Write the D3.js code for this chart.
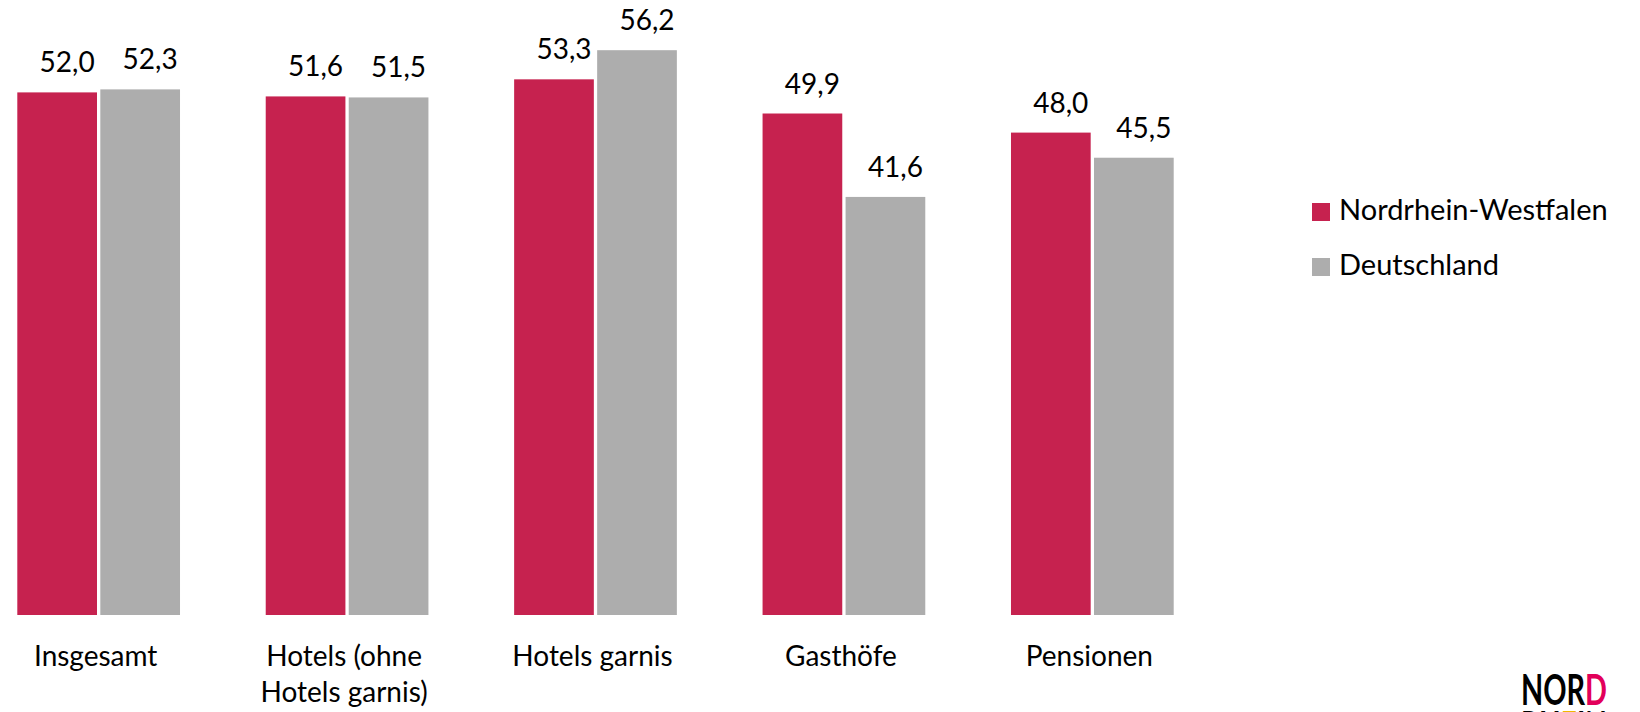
<!DOCTYPE html>
<html>
<head>
<meta charset="utf-8">
<script src="https://cdn.jsdelivr.net/npm/d3@7"></script>
<style>
  body { margin: 0; background: #fff; }
  svg text { font-family: Lato, "Open Sans", sans-serif; fill: #000; }
</style>
</head>
<body>
<svg id="chart" width="1640" height="712"></svg>
<script>
// Data
let categories = ["Insgesamt", "Hotels (ohne\nHotels garnis)", "Hotels garnis", "Gasthöfe", "Pensionen"];
let seriesNames = ["Nordrhein-Westfalen", "Deutschland"];
let nrwValues = [52.0, 51.6, 53.3, 49.9, 48.0];
let deValues = [52.3, 51.5, 56.2, 41.6, 45.5];

// Colors and layout
let nrwColor = "#c6224f";
let deColor = "#adadad";
let colors = [nrwColor, deColor];
let baseY = 615;
let fontSize = 28;

let svg = d3.select("svg#chart");

let rows = categories.map((c, i) => ({ cat: c, values: [nrwValues[i], deValues[i]] }));

// Scales
const xScale = d3.scaleBand()
  .domain(categories)
  .range([17.3, 1173.7])
  .paddingInner(0.345)
  .paddingOuter(0);

const subScale = d3.scaleBand()
  .domain(seriesNames)
  .range([0, xScale.bandwidth()])
  .paddingInner(0.04);

const yScale = d3.scaleLinear()
  .domain([0, 60])
  .range([baseY, 12]);

const de = d3.formatLocale({ decimal: ",", thousands: ".", grouping: [3], currency: ["", " €"] });
const fmt = de.format(".1f");

// Bars
let groups = svg.append("g")
  .selectAll("g")
  .data(rows)
  .join("g")
  .attr("transform", d => "translate(" + xScale(d.cat) + ",0)");

groups.selectAll("rect")
  .data(d => d.values.map((v, i) => ({ name: seriesNames[i], value: v, i: i })))
  .join("rect")
  .attr("x", d => subScale(d.name))
  .attr("y", d => yScale(d.value))
  .attr("width", subScale.bandwidth())
  .attr("height", d => yScale(0) - yScale(d.value))
  .attr("fill", d => colors[d.i]);

// Value labels
groups.selectAll("text.value")
  .data(d => d.values.map((v, i) => ({ name: seriesNames[i], value: v })))
  .join("text")
  .attr("class", "value")
  .attr("text-anchor", "middle")
  .attr("x", d => subScale(d.name) + subScale.bandwidth() / 2 + 10)
  .attr("y", d => yScale(d.value) - 20)
  .attr("font-size", fontSize + "px")
  .text(d => fmt(d.value));

// Category axis
let xAxis = d3.axisBottom(xScale).tickSize(0).tickPadding(0);
let axisG = svg.append("g")
  .attr("transform", "translate(0," + baseY + ")")
  .call(xAxis);
axisG.select(".domain").remove();
axisG.selectAll(".tick text").each(function(d) {
  let t = d3.select(this);
  t.text(null)
    .attr("y", 0)
    .attr("dy", null)
    .attr("x", -3)
    .attr("font-size", fontSize + "px")
    .attr("font-family", "Lato, 'Open Sans', sans-serif")
    .attr("fill", "#000");
  d.split("\n").forEach((line, k) => {
    t.append("tspan")
      .attr("x", -3)
      .attr("y", 51 + k * 36)
      .text(line);
  });
});

// Legend
let legend = svg.append("g")
  .attr("transform", "translate(1312,203)");
seriesNames.forEach((name, i) => {
  legend.append("rect")
    .attr("x", 0)
    .attr("y", i * 55)
    .attr("width", 18)
    .attr("height", 18)
    .attr("fill", colors[i]);
  legend.append("text")
    .attr("x", 27)
    .attr("y", i * 55 + 17)
    .attr("font-size", "29px")
    .text(name);
});

// Logo (cut off at the bottom, like the source)
let logo = svg.append("g")
  .attr("font-family", "'DejaVu Sans Condensed', 'DejaVu Sans', sans-serif")
  .attr("font-weight", "bold");
let nord = logo.append("text")
  .attr("x", 1521)
  .attr("y", 705)
  .attr("font-size", "42px")
  .attr("textLength", 86)
  .attr("lengthAdjust", "spacingAndGlyphs");
nord.append("tspan").text("NOR");
nord.append("tspan").style("fill", "#e2005a").text("D");
let rhein = logo.append("text")
  .attr("x", 1521)
  .attr("y", 742)
  .attr("font-size", "42px")
  .attr("textLength", 86)
  .attr("lengthAdjust", "spacingAndGlyphs");
rhein.append("tspan").text("RH");
rhein.append("tspan").style("fill", "#f2b600").text("E");
rhein.append("tspan").text("IN");
</script>
</body>
</html>
